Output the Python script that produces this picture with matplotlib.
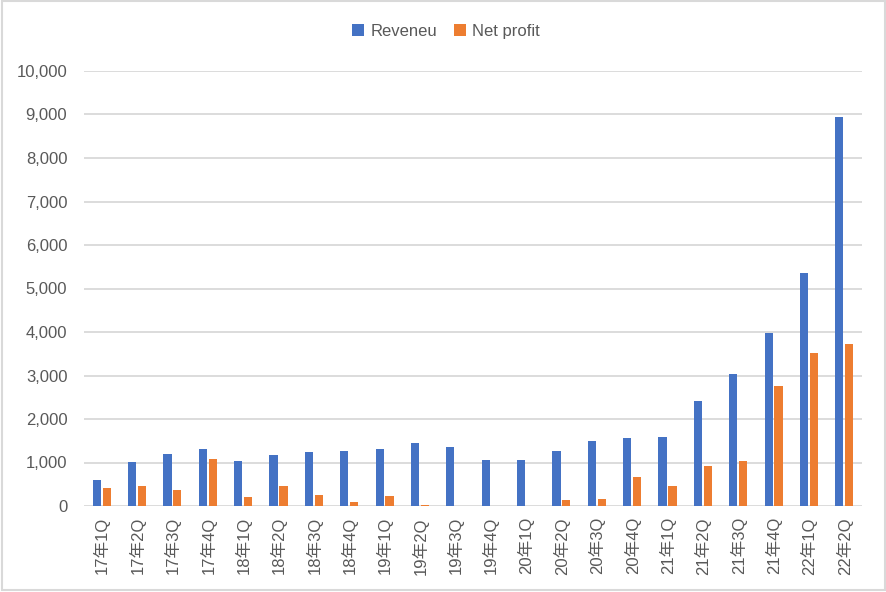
import numpy as np
import matplotlib.pyplot as plt
from matplotlib.patches import Rectangle

plt.rcParams['font.family'] = ['Liberation Sans', 'Noto Sans CJK SC', 'DejaVu Sans']

# data
quarters = ['17年1Q', '17年2Q', '17年3Q', '17年4Q',
            '18年1Q', '18年2Q', '18年3Q', '18年4Q',
            '19年1Q', '19年2Q', '19年3Q', '19年4Q',
            '20年1Q', '20年2Q', '20年3Q', '20年4Q',
            '21年1Q', '21年2Q', '21年3Q', '21年4Q',
            '22年1Q', '22年2Q']
revenue = [605, 1017, 1200, 1315, 1040, 1177, 1246, 1269, 1315, 1453, 1361,
           1063, 1063, 1269, 1498, 1567, 1590, 2410, 3035, 3978, 5359, 8948]
net_profit = [420, 466, 375, 1086, 214, 466, 260, 100, 237, 30, 0,
              0, 0, 145, 168, 673, 466, 925, 1040, 2759, 3518, 3725]

blue = '#4472C4'
orange = '#ED7D31'
grey = '#595959'

fig = plt.figure(figsize=(8.87, 5.92), dpi=100)
ax = fig.add_axes([84 / 887, 1 - 506 / 592, 778 / 887, 435 / 592])

x = np.arange(len(quarters))
w = 0.23
ax.bar(x - 0.14, revenue, w, color=blue, label='Reveneu', zorder=3)
ax.bar(x + 0.14, net_profit, w, color=orange, label='Net profit', zorder=3)

ax.set_xlim(-0.5, len(quarters) - 0.5)
ax.set_ylim(0, 10000)
ax.set_yticks(np.arange(0, 10001, 1000))
ax.set_yticklabels([f'{v:,}' for v in range(0, 10001, 1000)])
ax.set_xticks(x)
ax.set_xticklabels(quarters, rotation=90)
ax.tick_params(axis='both', length=0, labelsize=12, labelcolor=grey)
ax.tick_params(axis='y', pad=12)
ax.tick_params(axis='x', pad=8)
ax.grid(axis='y', color='#D9D9D9', linewidth=1.3, zorder=0)
for s in ax.spines.values():
    s.set_visible(False)

fig.legend(loc='upper center', bbox_to_anchor=(0.503, 0.985), ncol=2,
           frameon=False, fontsize=12, labelcolor=grey,
           handlelength=0.7, handleheight=0.7, columnspacing=1.0, handletextpad=0.4)

fig.patches.append(Rectangle((0.002, 0.003), 0.996, 0.995, transform=fig.transFigure,
                             fill=False, edgecolor='#D9D9D9', linewidth=1.5))

fig.savefig('out.png', dpi=100)
